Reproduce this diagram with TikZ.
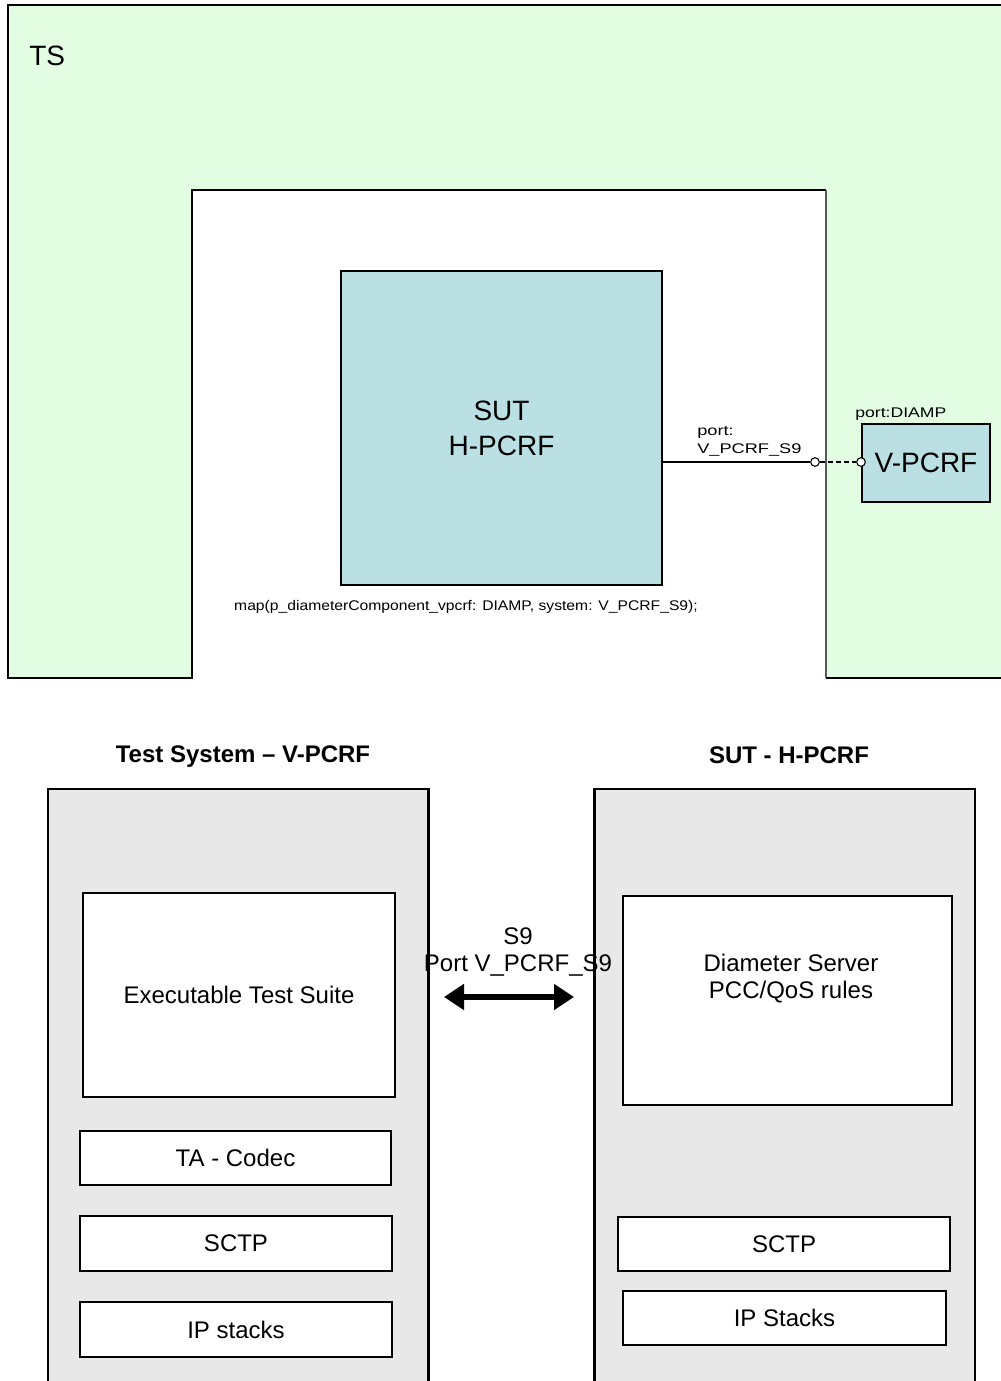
\documentclass[tikz,border=0pt]{standalone}
\usepackage{fontspec}
\setmainfont{Liberation Sans}
\usetikzlibrary{arrows.meta}
\definecolor{tsgreen}{RGB}{227,253,227}
\definecolor{sutblue}{RGB}{187,224,227}
\definecolor{panelgray}{RGB}{232,232,232}
\newcommand\myxs[2]{\scalebox{#1}[1]{#2}}
\newcommand\fBig{\fontsize{21pt}{26.25pt}\selectfont}
\newcommand\fMid{\fontsize{18pt}{20.25pt}\selectfont}
\newcommand\fSmall{\fontsize{10.5pt}{13.5pt}\selectfont}
\begin{document}
\begin{tikzpicture}[x=0.75pt,y=-0.75pt,
  box/.style={draw=black, line width=1.1pt, inner sep=0pt, anchor=center},
  blue box/.style={box, fill=sutblue, font=\fBig, align=center},
  white box/.style={box, fill=white, font=\fMid, align=center},
  panel/.style={draw=black, line width=1.5pt, fill=panelgray, inner sep=0pt},
  lbl/.style={inner sep=0pt, font=\fSmall},
  port/.style={circle, draw=black, fill=white, line width=0.8pt, inner sep=0pt, minimum size=6.5pt},
  title/.style={font=\fMid\bfseries, anchor=base, inner sep=0pt}
]
\useasboundingbox (0,0) rectangle (1000,1381);

% ---- TS area ----
\fill[tsgreen] (8,5) rectangle (1005,678);
\fill[white] (192,190) rectangle (826,681);
\draw[line width=1.1pt] (1005,5) -- (8,5) -- (8,678) -- (192,678) -- (192,190) -- (826,190);
\draw[line width=1.1pt, draw=black!65] (826,190) -- (826,678);
\draw[line width=1.5pt] (826,678) -- (1005,678);
\node[font=\fBig, anchor=base west, inner sep=0pt] (ts) at (29,65) {TS};

\node[blue box, minimum width=240.75pt, minimum height=235.5pt] (sut) at (501.5,428) {SUT\\H-PCRF};
\node[blue box, minimum width=96pt, minimum height=58.5pt] (vpcrf) at (926,463) {V-PCRF};
\node[port] (p1) at (815,462) {};
\node[port] (p2) at (861,462) {};
\draw[line width=0.9pt] (sut.east |- p1) -- (p1);
\draw[line width=0.9pt, dash pattern=on 3.5pt off 2.5pt] (p1) -- (p2);

\node[lbl, anchor=south west, align=left] (plbl) at (697,457) {\myxs{1.3}{port:}\\\myxs{1.3}{V\_PCRF\_S9}};
\node[lbl, anchor=base west] (pdiamp) at (855,417) {\myxs{1.26}{port:DIAMP}};
\node[lbl, anchor=base] (maptxt) at (466,610) {\myxs{1.12}{map(p\_diameterComponent\_vpcrf: DIAMP, system: V\_PCRF\_S9);}};

% ---- bottom ----
\node[title] (tstitle) at (243,762) {Test System – V-PCRF};
\node[title] (suttitle) at (789,763) {SUT - H-PCRF};

\node[panel, minimum width=285pt, minimum height=458.25pt] (tspanel) at (238,1094.5) {};
\node[panel, minimum width=285pt, minimum height=458.25pt] (sutpanel) at (785,1094.5) {};

\node[white box, minimum width=234pt, minimum height=153pt] (ets) at (239,995) {Executable Test Suite};
\node[white box, minimum width=233.25pt, minimum height=40.5pt] (codec) at (235.5,1158) {TA - Codec};
\node[white box, minimum width=234pt, minimum height=41.25pt] (sctpl) at (236,1243.5) {SCTP};
\node[white box, minimum width=234pt, minimum height=41.25pt] (ipl) at (236,1329.5) {IP stacks};

\node[white box, minimum width=246.75pt, minimum height=156.75pt] (diam) at (787.5,1000.5) {};
\node[font=\fMid, align=center, inner sep=0pt] (diamtxt) at (791,979) {Diameter Server\\PCC/QoS rules};
\node[white box, minimum width=249pt, minimum height=40.5pt] (sctpr) at (784,1244) {SCTP};
\node[white box, minimum width=242.25pt, minimum height=40.5pt] (ipr) at (784.5,1318) {IP Stacks};

\node[font=\fMid, align=center, inner sep=0pt] (s9) at (518,952) {S9\\Port V\_PCRF\_S9};
\draw[line width=1.5pt] (tspanel.north east) -- (tspanel.south east);
\draw[line width=1.5pt] (sutpanel.north west) -- (sutpanel.south west);

\coordinate (aL) at (444,997);
\coordinate (aR) at (574,997);
\draw[line width=4.1pt, {Triangle[length=15pt,width=18.75pt]}-{Triangle[length=15pt,width=18.75pt]}] (aL) -- (aR);
\end{tikzpicture}
\end{document}
